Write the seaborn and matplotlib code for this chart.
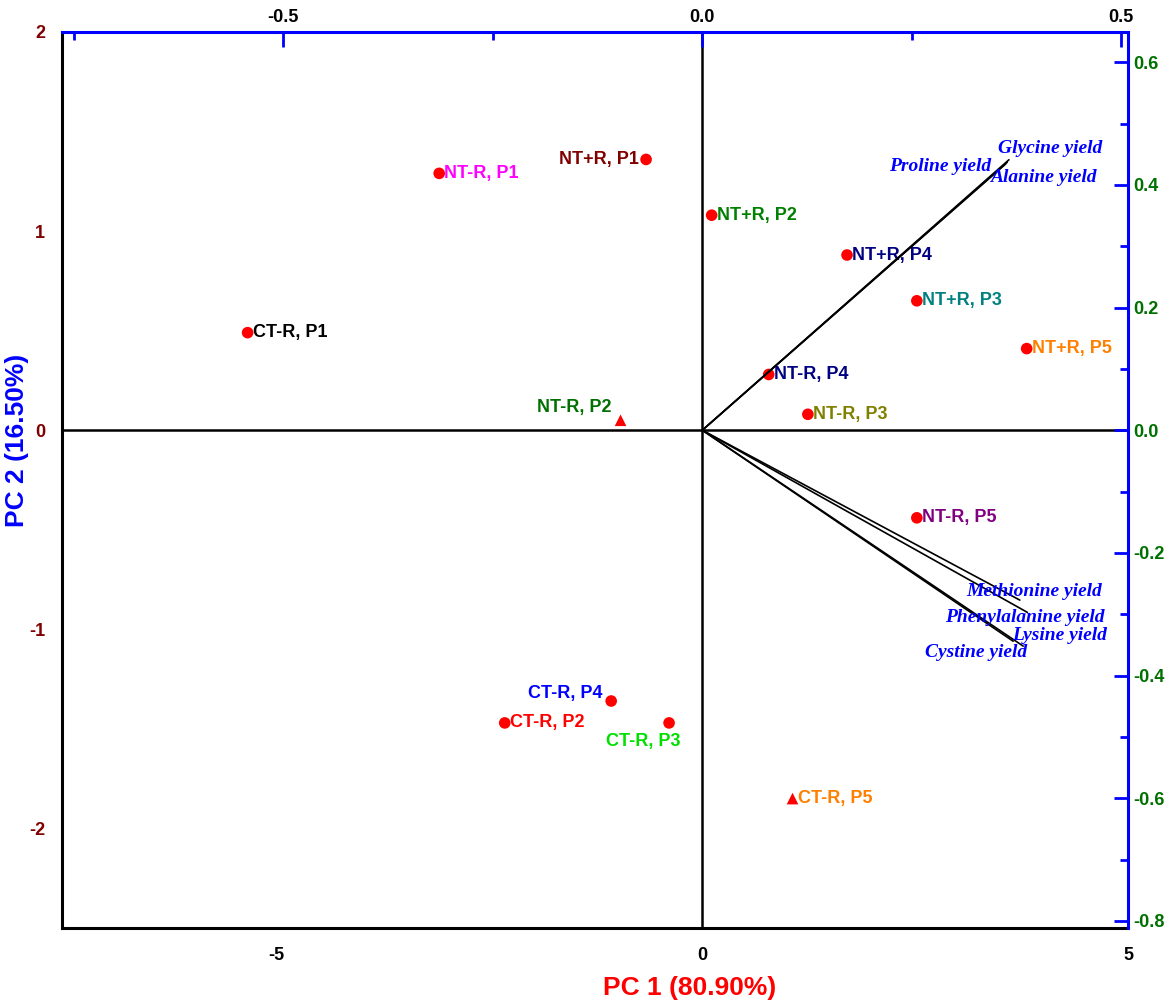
import matplotlib
matplotlib.use('Agg')
import matplotlib.pyplot as plt
import matplotlib.ticker as mticker
import seaborn as sns
import pandas as pd

# PCA scores (PC1 / PC2) of the treatments
sample_names = ['CT-R, P1', 'NT-R, P1', 'NT+R, P1', 'NT+R, P2', 'NT+R, P4',
                'NT+R, P3', 'NT+R, P5', 'NT-R, P4', 'NT-R, P2', 'NT-R, P3',
                'NT-R, P5', 'CT-R, P4', 'CT-R, P2', 'CT-R, P3', 'CT-R, P5']
pc1_scores = [-5.34, -3.09, -0.66, 0.11, 1.70, 2.52, 3.81, 0.78, -0.96, 1.24,
              2.52, -1.07, -2.32, -0.39, 1.06]
pc2_scores = [0.49, 1.29, 1.36, 1.08, 0.88, 0.65, 0.41, 0.28, 0.05, 0.08,
              -0.44, -1.36, -1.47, -1.47, -1.85]
marker_kind = ['circle', 'circle', 'circle', 'circle', 'circle', 'circle',
               'circle', 'circle', 'triangle', 'circle', 'circle', 'circle',
               'circle', 'circle', 'triangle']
label_colors = ['black', '#FF00FF', '#800000', '#008000', '#000080', '#008080',
                '#FF8000', '#000080', '#007000', '#808000', '#800080', '#0000FF',
                '#FF0000', '#00E000', '#FF8000']

# loadings (top / right axes)
loading_names = ['Glycine yield', 'Alanine yield', 'Proline yield',
                 'Methionine yield', 'Phenylalanine yield', 'Lysine yield',
                 'Cystine yield']
load_pc1 = [0.366, 0.364, 0.362, 0.379, 0.388, 0.383, 0.371]
load_pc2 = [0.441, 0.437, 0.434, -0.277, -0.297, -0.352, -0.344]

# label placement: (dx px, dy px, ha)
sample_offsets = {
    'NT+R, P1': (-7, 0, 'right'),
    'NT-R, P2': (-9, 13, 'right'),
    'CT-R, P4': (-9, 8, 'right'),
    'CT-R, P3': (11, -19, 'right'),
}
loading_offsets = {
    'Glycine yield': (41, 11),
    'Alanine yield': (36, -15),
    'Proline yield': (-65, -2),
    'Methionine yield': (14, 9),
    'Phenylalanine yield': (-3, -5),
    'Lysine yield': (36, 11),
    'Cystine yield': (-37, -11),
}

sns.set_theme(style='white')
plt.rcParams['font.family'] = ['Liberation Sans', 'DejaVu Sans']
plt.rcParams['font.weight'] = 'bold'
plt.rcParams['axes.unicode_minus'] = False

scores = pd.DataFrame({'name': sample_names, 'pc1': pc1_scores,
                       'pc2': pc2_scores, 'shape': marker_kind,
                       'color': label_colors})
loads = pd.DataFrame({'name': loading_names, 'pc1': load_pc1, 'pc2': load_pc2})

fig = plt.figure(figsize=(11.7, 10.08), dpi=100)
rect = [62 / 1170, 1 - 928 / 1008, (1128 - 62) / 1170, (928 - 32) / 1008]
ax = fig.add_axes(rect)

ax.axhline(0, color='black', lw=1.8, zorder=1)
ax.axvline(0, color='black', lw=1.8, zorder=1)

sns.scatterplot(data=scores, x='pc1', y='pc2', style='shape',
                markers={'circle': 'o', 'triangle': '^'}, color='red',
                s=70, edgecolor='none', legend=False, ax=ax, zorder=3)

px = 0.72  # points per pixel
for _, r in scores.iterrows():
    dx, dy, ha = sample_offsets.get(r['name'], (5, 0, 'left'))
    ax.annotate(r['name'], (r['pc1'], r['pc2']), xytext=(dx * px, dy * px),
                textcoords='offset points', ha=ha, va='center',
                color=r['color'], fontsize=13, fontweight='bold', zorder=4)

ax.set_xlim(-7.52, 5.0)
ax.set_ylim(-2.5, 2.0)
ax.xaxis.set_major_locator(mticker.MultipleLocator(5))
ax.xaxis.set_minor_locator(mticker.MultipleLocator(2.5))
ax.yaxis.set_major_locator(mticker.MultipleLocator(1))
ax.yaxis.set_minor_locator(mticker.MultipleLocator(0.5))
ax.xaxis.set_major_formatter(mticker.FormatStrFormatter('%d'))
ax.yaxis.set_major_formatter(mticker.FormatStrFormatter('%d'))
ax.tick_params(axis='x', which='major', direction='out', length=11, width=2,
               labelsize=13, colors='black', pad=3)
ax.tick_params(axis='x', which='minor', direction='out', length=5, width=2,
               colors='black')
ax.tick_params(axis='y', which='major', direction='out', length=9, width=2,
               labelsize=13, labelcolor='#800000', color='black', pad=3)
ax.tick_params(axis='y', which='minor', direction='out', length=4, width=2,
               color='black')
for lab in ax.get_xticklabels() + ax.get_yticklabels():
    lab.set_fontweight('bold')
for side in ['top', 'right']:
    ax.spines[side].set_visible(False)
for side in ['left', 'bottom']:
    ax.spines[side].set_color('black')
    ax.spines[side].set_linewidth(2.2)

ax.set_xlabel('')
ax.set_ylabel('')
fig.text(690 / 1170, 1 - 988 / 1008, 'PC 1 (80.90%)', color='#FF0000',
         fontsize=19, fontweight='bold', ha='center', va='center')
fig.text(17 / 1170, 1 - 440 / 1008, 'PC 2 (16.50%)', color='#0000FF',
         fontsize=19, fontweight='bold', ha='center', va='center',
         rotation=90)

# loading axes on top / right
ax2 = fig.add_axes(rect, frameon=True)
ax2.patch.set_alpha(0)
ax2.set_xlim(-7.52 / 9.84, 5.0 / 9.84)
ax2.set_ylim(-2.5 / 3.08, 2.0 / 3.08)
for _, r in loads.iterrows():
    ax2.plot([0, r['pc1']], [0, r['pc2']], color='black', lw=1.2)
    dx, dy = loading_offsets[r['name']]
    ax2.annotate(r['name'], (r['pc1'], r['pc2']), xytext=(dx * px, dy * px),
                 textcoords='offset points', ha='center', va='center',
                 color='#0000FF', fontsize=14, fontweight='bold',
                 fontstyle='italic', family=['Liberation Serif', 'DejaVu Serif'])

ax2.xaxis.tick_top()
ax2.yaxis.tick_right()
ax2.xaxis.set_major_locator(mticker.MultipleLocator(0.5))
ax2.xaxis.set_minor_locator(mticker.MultipleLocator(0.25))
ax2.yaxis.set_major_locator(mticker.MultipleLocator(0.2))
ax2.yaxis.set_minor_locator(mticker.MultipleLocator(0.1))
ax2.xaxis.set_major_formatter(mticker.FormatStrFormatter('%.1f'))
ax2.yaxis.set_major_formatter(mticker.FormatStrFormatter('%.1f'))
ax2.tick_params(axis='x', which='major', direction='in', length=11, width=2,
                labelsize=13, labelcolor='black', color='#0000FF', pad=4)
ax2.tick_params(axis='x', which='minor', direction='in', length=6, width=2,
                color='#0000FF')
ax2.tick_params(axis='y', which='major', direction='in', length=10, width=2,
                labelsize=13, labelcolor='#007000', color='#0000FF', pad=4)
ax2.tick_params(axis='y', which='minor', direction='in', length=6, width=2,
                color='#0000FF')
for lab in ax2.get_xticklabels() + ax2.get_yticklabels():
    lab.set_fontweight('bold')
for side in ['left', 'bottom']:
    ax2.spines[side].set_visible(False)
for side in ['top', 'right']:
    ax2.spines[side].set_color('#0000FF')
    ax2.spines[side].set_linewidth(2.2)

fig.savefig('out.png', dpi=100)
